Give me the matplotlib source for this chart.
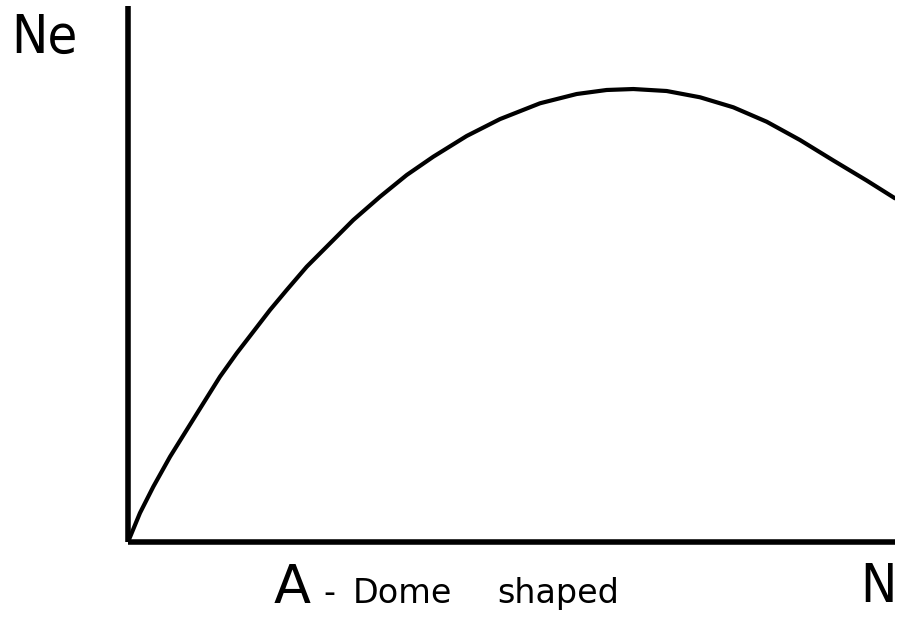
import matplotlib.pyplot as plt

# Dome shaped curve (N and Ne in % of axis length)
n_vals = [0, 1.56, 3.30, 5.48, 7.65, 9.82, 11.99, 14.17, 16.34, 18.51, 20.69,
          23.30, 25.90, 29.37, 32.86, 36.34, 39.80, 44.16, 48.50, 53.72, 58.50,
          62.41, 65.88, 70.23, 74.58, 78.92, 83.27, 87.61, 91.96, 96.31, 100]
ne_vals = [0, 5.41, 10.32, 15.91, 20.90, 25.88, 30.84, 35.21, 39.24, 43.28, 47.01,
           51.36, 55.09, 60.07, 64.42, 68.47, 71.88, 75.75, 78.9, 81.85, 83.58,
           84.33, 84.51, 84.14, 82.97, 81.10, 78.41, 75.0, 71.18, 67.44, 64.12]

W, H = 901, 622
fig = plt.figure(figsize=(W / 100, H / 100), dpi=100)
ax = fig.add_axes([128 / W, (H - 542) / H, 767 / W, 536 / H])

ax.plot(n_vals, ne_vals, color='black', linewidth=3,
        solid_capstyle='round', solid_joinstyle='round')

ax.set_xlim(0, 100)
ax.set_ylim(0, 100)
ax.set_xticks([])
ax.set_yticks([])
for side in ['top', 'right']:
    ax.spines[side].set_visible(False)
for side in ['left', 'bottom']:
    ax.spines[side].set_linewidth(4)
    ax.spines[side].set_capstyle('butt')


# labels, positioned in pixels of the figure
def px_text(x, y, s, size, stretch='normal'):
    fig.text(x / W, 1 - y / H, s, fontsize=size, ha='left', va='baseline',
             family='DejaVu Sans', fontstretch=stretch, color='black')


px_text(11, 53, 'Ne', 39, 'condensed')
px_text(860, 602, 'N', 39, 'condensed')
px_text(274, 603, 'A', 39)
px_text(323, 603, '-', 24)
px_text(353, 603, 'Dome', 24)
px_text(497, 603, 'shaped', 24)

fig.savefig('out.png', dpi=100, facecolor='white')
